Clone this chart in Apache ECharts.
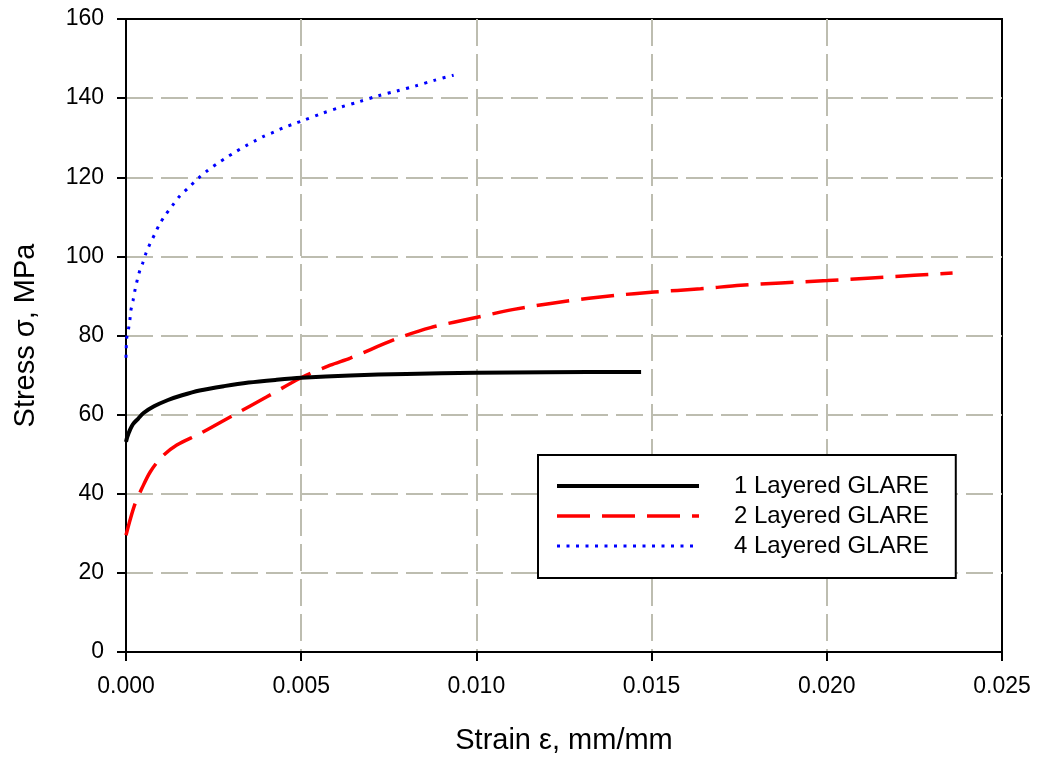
<!DOCTYPE html>
<html>
<head>
<meta charset="utf-8">
<script src="https://cdn.jsdelivr.net/npm/echarts@6/dist/echarts.min.js"></script>
<style>
  html, body { margin: 0; padding: 0; background: #fff; }
  #main { width: 1037px; height: 760px; }
</style>
</head>
<body>
<div id="main"></div>
<script>
"use strict";

// 1 Layered GLARE
const strain_1 = [0, 0.00003, 0.00007, 0.00012, 0.0002, 0.00035, 0.0005, 0.0008, 0.0012, 0.0016, 0.0021, 0.0028, 0.0035, 0.0043, 0.005, 0.0064, 0.008, 0.010, 0.012, 0.0147];
const stress_1 = [53.1, 54.2, 55.2, 56.3, 57.6, 59.0, 60.4, 62.1, 63.7, 64.9, 66.1, 67.2, 68.1, 68.8, 69.3, 69.9, 70.3, 70.6, 70.7, 70.8];

// 2 Layered GLARE
const strain_2 = [0, 0.00012, 0.00026, 0.00045, 0.00069, 0.00102, 0.00145, 0.00211, 0.00307, 0.00402, 0.00497, 0.00583, 0.0064, 0.00773, 0.00869, 0.01002, 0.01107, 0.0125, 0.01393, 0.01507, 0.0164, 0.01754, 0.01869, 0.02002, 0.02116, 0.02249, 0.02359];
const stress_2 = [29.5, 33.5, 37.5, 41.3, 45.5, 49.3, 52.3, 55.2, 59.9, 64.5, 69.2, 72.5, 74.3, 79.2, 82.0, 84.6, 86.6, 88.6, 90.1, 91.0, 91.8, 92.7, 93.3, 93.9, 94.5, 95.2, 95.8];

// 4 Layered GLARE
const strain_4 = [0, 0.00002, 0.00007, 0.00011, 0.00014, 0.0002, 0.00025, 0.00031, 0.00038, 0.00048, 0.00057, 0.00068, 0.00082, 0.00095, 0.00112, 0.00132, 0.00153, 0.0018, 0.00207, 0.00233, 0.00261, 0.00287, 0.00314, 0.00341, 0.00368, 0.00394, 0.00422, 0.00449, 0.00476, 0.00504, 0.00558, 0.00612, 0.00666, 0.0072, 0.00773, 0.00827, 0.0088, 0.00935];
const stress_4 = [74.4, 79.3, 81.6, 83.9, 86.4, 88.8, 91.2, 93.6, 96.0, 98.4, 100.8, 103.1, 105.6, 108.0, 110.4, 112.8, 115.2, 117.5, 119.8, 121.7, 123.5, 125.0, 126.5, 127.9, 129.2, 130.4, 131.4, 132.5, 133.4, 134.3, 136.1, 137.7, 139.1, 140.6, 141.8, 143.1, 144.5, 145.8];

const series_names = ["1 Layered GLARE", "2 Layered GLARE", "4 Layered GLARE"];

const FONT = "'Liberation Sans', Arial, sans-serif";
const GRID_COLOR = '#bdbdb0';

function pairs(xs, ys) {
  return xs.map(function (x, i) { return [x, ys[i]]; });
}

let myChart = echarts.init(document.getElementById('main'));

let option = {
  animation: false,
  backgroundColor: '#fff',
  textStyle: { fontFamily: FONT },
  grid: { // 绘图区
    left: 126,
    right: 35,
    top: 19,
    bottom: 108,
    show: true,
    borderColor: '#000',
    borderWidth: 2,
  },
  legend: { // 图例
    orient: 'vertical',
    left: 538,
    top: 455,
    padding: [18, 27, 19, 17],
    itemWidth: 142,
    itemHeight: 14,
    itemGap: 4,
    backgroundColor: '#fff',
    borderColor: '#000',
    borderWidth: 2,
    borderRadius: 0,
    itemStyle: { opacity: 0 },
    data: [
      { name: series_names[0], lineStyle: { width: 4 } },
      { name: series_names[1], lineStyle: { width: 3.5 } },
      { name: series_names[2], lineStyle: { width: 3 } },
    ],
    textStyle: {
      fontFamily: FONT,
      fontSize: 24,
      lineHeight: 26,
      color: '#000',
      padding: [0, 0, 0, 30],
    },
  },
  xAxis: {
    type: 'value',
    min: 0,
    max: 0.025,
    interval: 0.005,
    name: 'Strain ε, mm/mm',
    nameLocation: 'middle',
    nameGap: 74,
    nameTextStyle: { fontFamily: FONT, fontSize: 29, color: '#000' },
    axisLine: { show: true, lineStyle: { color: '#000', width: 2 } },
    axisTick: { show: true, inside: false, length: 9, lineStyle: { color: '#000', width: 2 } },
    axisLabel: {
      fontFamily: FONT,
      fontSize: 23,
      color: '#000',
      margin: 23,
      formatter: function (v) { return v.toFixed(3); },
    },
    splitLine: {
      show: true,
      showMinLine: false,
      showMaxLine: false,
      lineStyle: { color: GRID_COLOR, width: 2, type: [27, 8] },
    },
  },
  yAxis: {
    type: 'value',
    min: 0,
    max: 160,
    interval: 20,
    name: 'Stress σ, MPa',
    nameLocation: 'middle',
    nameGap: 86,
    nameTextStyle: { fontFamily: FONT, fontSize: 29, color: '#000' },
    axisLine: { show: true, lineStyle: { color: '#000', width: 2 } },
    axisTick: { show: true, inside: false, length: 9, lineStyle: { color: '#000', width: 2 } },
    axisLabel: {
      fontFamily: FONT,
      fontSize: 23,
      color: '#000',
      margin: 22,
    },
    splitLine: {
      show: true,
      showMinLine: false,
      showMaxLine: false,
      lineStyle: { color: GRID_COLOR, width: 2, type: [27, 8] },
    },
  },
  series: [
    {
      name: series_names[0],
      type: 'line',
      data: pairs(strain_1, stress_1),
      showSymbol: false,
      symbol: 'none',
      smooth: 0.3,
      lineStyle: { color: '#000', width: 4, type: 'solid' },
      itemStyle: { color: '#000' },
      z: 4,
    },
    {
      name: series_names[1],
      type: 'line',
      data: pairs(strain_2, stress_2),
      showSymbol: false,
      symbol: 'none',
      smooth: 0.3,
      lineStyle: { color: '#ff0000', width: 3.5, type: [33, 12] },
      itemStyle: { color: '#ff0000' },
      z: 3,
    },
    {
      name: series_names[2],
      type: 'line',
      data: pairs(strain_4, stress_4),
      showSymbol: false,
      symbol: 'none',
      smooth: 0.3,
      lineStyle: { color: '#0000ff', width: 3, type: [3, 6.5] },
      itemStyle: { color: '#0000ff' },
      z: 3,
    },
  ],
};

myChart.setOption(option);
</script>
</body>
</html>
